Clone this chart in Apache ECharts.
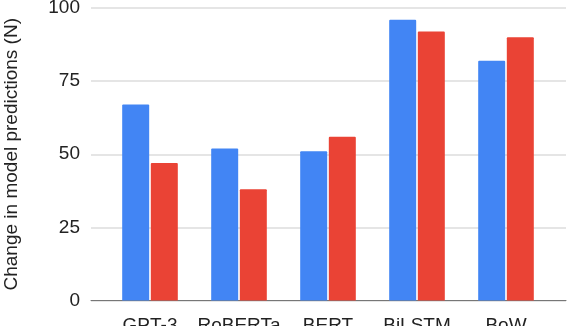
<!DOCTYPE html>
<html>
<head>
<meta charset="utf-8">
<script src="https://cdn.jsdelivr.net/npm/echarts@6/dist/echarts.min.js"></script>
<style>
html,body{margin:0;padding:0;background:#fff;}
#chart{width:568px;height:326px;}
</style>
</head>
<body>
<div id="chart"></div>
<script>
const categories = ["GPT-3", "RoBERTa", "BERT", "BiLSTM", "BoW"];
const seriesBlue = [67, 52, 51, 96, 82];
const seriesRed = [47, 38, 56, 92, 90];
const yTicks = [0, 25, 50, 75, 100];
const yAxisTitle = "Change in model predictions (N)";

const chart = echarts.init(document.getElementById('chart'), null, {renderer: 'canvas'});
const font = 'Liberation Sans, Arial, sans-serif';
chart.setOption({
  animation: false,
  grid: [
    {left: 91, right: 2, top: 8, bottom: 25.5, containLabel: false, outerBoundsMode: 'none'},
    {left: 105.5, right: 17.5, top: 8, bottom: 25.5, containLabel: false, outerBoundsMode: 'none'}
  ],
  xAxis: [
    {gridIndex: 0, type: 'category', data: [''],
     axisLine: {show: true, lineStyle: {color: '#777', width: 1}},
     axisTick: {show: false}, axisLabel: {show: false}, splitLine: {show: false}},
    {gridIndex: 1, type: 'category', data: categories,
     axisLine: {show: false}, axisTick: {show: false},
     axisLabel: {color: '#222', fontSize: 19, fontFamily: font, margin: 16, interval: 0}}
  ],
  yAxis: [
    {gridIndex: 0, type: 'value', min: yTicks[0], max: yTicks[yTicks.length-1], interval: 25,
     axisLine: {show: false}, axisTick: {show: false},
     axisLabel: {color: '#222', fontSize: 19, fontFamily: font, margin: 11},
     splitLine: {show: true, lineStyle: {color: '#dcdcdc', width: 1.5}},
     name: yAxisTitle, nameLocation: 'middle', nameGap: 70,
     nameTextStyle: {color: '#222', fontSize: 19, fontFamily: font}},
    {gridIndex: 1, type: 'value', min: 0, max: 100, show: false}
  ],
  series: [
    {name: 'A', type: 'bar', xAxisIndex: 1, yAxisIndex: 1, data: seriesBlue,
     barWidth: 27, barGap: '6%', itemStyle: {color: '#4285F4', borderRadius: [1,1,0,0]}},
    {name: 'B', type: 'bar', xAxisIndex: 1, yAxisIndex: 1, data: seriesRed,
     barWidth: 27, barGap: '6%', itemStyle: {color: '#EA4335', borderRadius: [1,1,0,0]}}
  ]
});
</script>
</body>
</html>
